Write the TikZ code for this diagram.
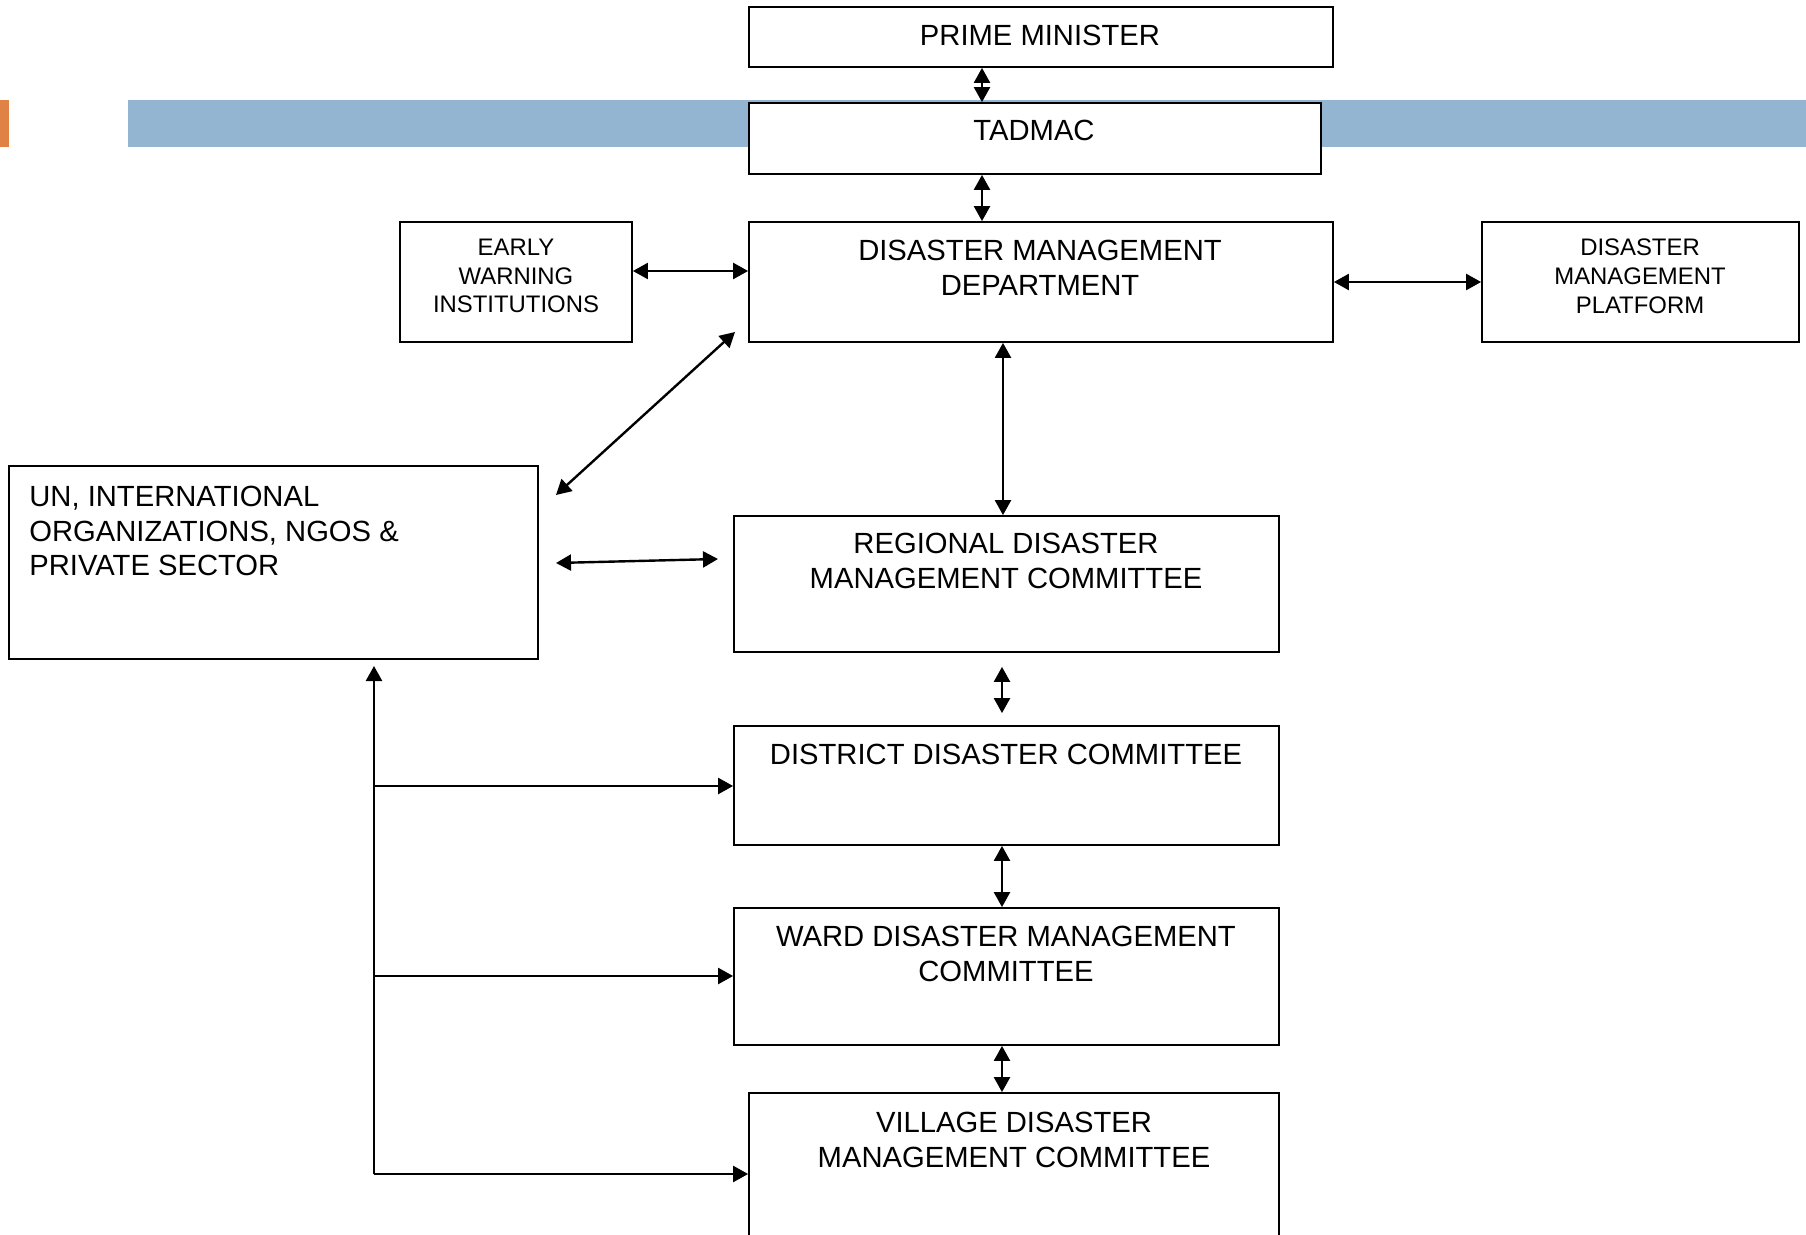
\documentclass[tikz,border=0pt]{standalone}
\usepackage{fontspec}
\setmainfont{Liberation Sans}
\usetikzlibrary{arrows.meta,fit}
\definecolor{bandblue}{RGB}{148,181,210}
\definecolor{bandorange}{RGB}{224,130,70}
\tikzset{
  box/.style={draw, line width=0.9pt, fill=white, inner sep=0pt},
  txt/.style={font=\fontsize{14.6}{17.3}\selectfont, align=center, inner sep=0pt},
  smalltxt/.style={font=\fontsize{11.95}{14.4}\selectfont, align=center, inner sep=0pt},
  tipA/.tip={Triangle[length=7.5pt,width=8pt]},
  arr/.style={tipA-tipA, line width=1.2pt},
  onearr/.style={-tipA, line width=1.2pt}
}
\begin{document}
\begin{tikzpicture}[x=0.5pt,y=-0.5pt]
\clip (0,0) rectangle (1806,1235);
\fill[white] (0,0) rectangle (1806,1235);
% bands
\fill[bandorange] (0,100) rectangle (9,147);
\fill[bandblue] (128,100) rectangle (1806,147);
% boxes
\node[box, fit={(749,7)(1333,67)}] (pm) {};
\node[box, fit={(749,103)(1321,174)}] (tad) {};
\node[box, fit={(749,222)(1333,342)}] (dmd) {};
\node[box, fit={(400,222)(632,342)}] (ewi) {};
\node[box, fit={(1482,222)(1799,342)}] (dmp) {};
\node[box, fit={(9,466)(538,659)}] (un) {};
\node[box, fit={(734,516)(1279,652)}] (rdmc) {};
\node[box, fit={(734,726)(1279,845)}] (ddc) {};
\node[box, fit={(734,908)(1279,1045)}] (wdmc) {};
\node[box, fit={(749,1093)(1279,1260)}] (vdmc) {};
% texts
\node[txt] (tpm) at (1040,35) {PRIME MINISTER};
\node[txt] (ttad) at (1034,130) {TADMAC};
\node[txt] (tdmd) at (1040,268) {DISASTER MANAGEMENT\\DEPARTMENT};
\node[smalltxt] (tewi) at (516,276) {EARLY\\WARNING\\INSTITUTIONS};
\node[smalltxt] (tdmp) at (1640,276) {DISASTER\\MANAGEMENT\\PLATFORM};
\node[txt, align=left, anchor=west] (tun) at (29,531) {UN, INTERNATIONAL\\ORGANIZATIONS, NGOS \&\\PRIVATE SECTOR};
\node[txt] (trdmc) at (1006,561) {REGIONAL DISASTER\\MANAGEMENT COMMITTEE};
\node[txt] (tddc) at (1006,754) {DISTRICT DISASTER COMMITTEE};
\node[txt] (twdmc) at (1006,954) {WARD DISASTER MANAGEMENT\\COMMITTEE};
\node[txt] (tvdmc) at (1014,1140) {VILLAGE DISASTER\\MANAGEMENT COMMITTEE};
% helper coordinates
\coordinate (c982) at (982,0);
\coordinate (c1003) at (1003,0);
\coordinate (c1002) at (1002,0);
\coordinate (r271) at (0,271);
\coordinate (r282) at (0,282);
\coordinate (d1) at (556,495);
\coordinate (d2) at (735,332);
\coordinate (h1) at (556,563);
\coordinate (h2) at (718,559);
\coordinate (top) at (374,666);
\coordinate (j1) at (374,786);
\coordinate (j2) at (374,976);
\coordinate (j3) at (374,1174);
% connectors
\draw[arr] (pm.south -| c982) -- (tad.north -| c982);
\draw[arr] (tad.south -| c982) -- (dmd.north -| c982);
\draw[arr] (ewi.east |- r271) -- (dmd.west |- r271);
\draw[arr] (dmd.east |- r282) -- (dmp.west |- r282);
\draw[arr] (dmd.south -| c1003) -- (rdmc.north -| c1003);
\draw[arr] (d1) -- (d2);
\draw[arr] (h1) -- (h2);
\draw[arr, shorten <=7pt, shorten >=6pt] (rdmc.south -| c1002) -- (ddc.north -| c1002);
\draw[arr] (ddc.south -| c1002) -- (wdmc.north -| c1002);
\draw[arr] (wdmc.south -| c1002) -- (vdmc.north -| c1002);
\draw[onearr] (j3) -- (top);
\draw[onearr] (j1) -- (ddc.west |- j1);
\draw[onearr] (j2) -- (wdmc.west |- j2);
\draw[onearr] (j3) -- (vdmc.west |- j3);
\end{tikzpicture}
\end{document}
